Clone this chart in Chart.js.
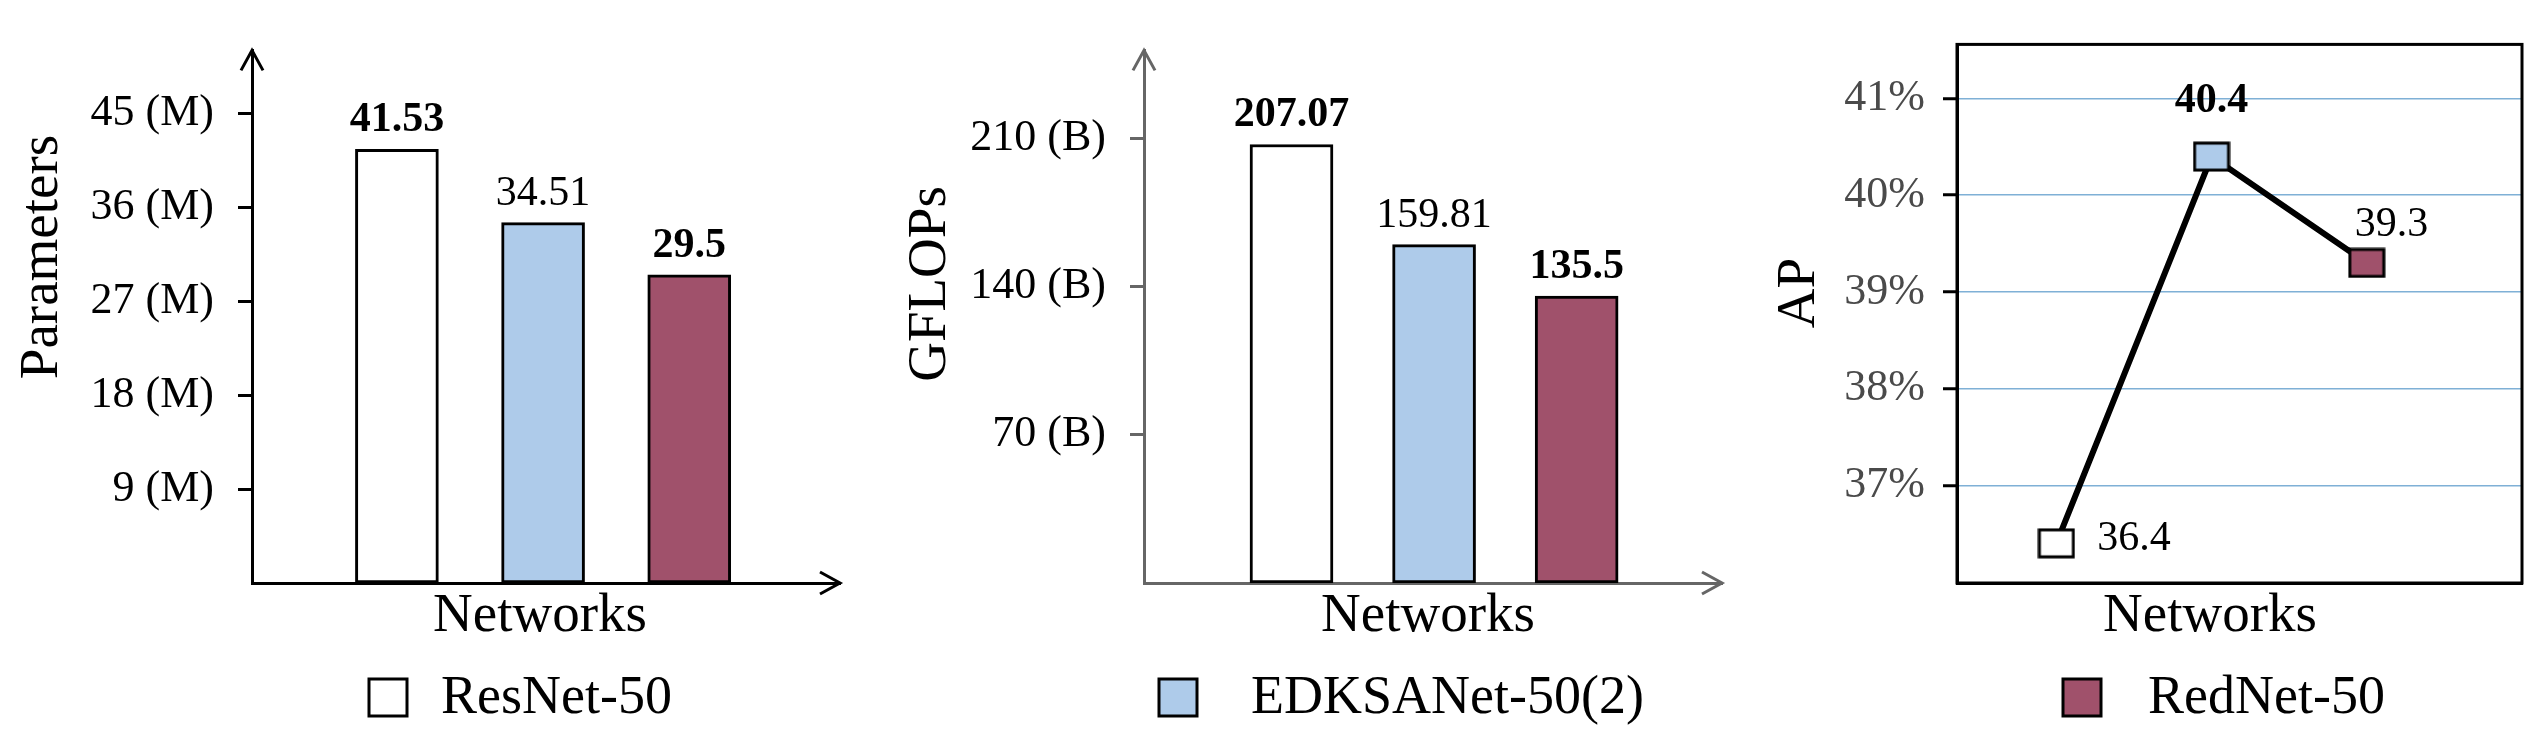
<!DOCTYPE html>
<html>
<head>
<meta charset="utf-8">
<script src="https://cdn.jsdelivr.net/npm/chart.js@4/dist/chart.umd.min.js"></script>
<style>
  html, body { margin: 0; padding: 0; background: #fff; }
  #wrap { position: relative; width: 2544px; height: 751px; }
  canvas { position: absolute; left: 0; top: 0; }
</style>
</head>
<body>
<div id="wrap">
  <canvas id="params" width="2544" height="751"></canvas>
  <canvas id="flops" width="2544" height="751"></canvas>
  <canvas id="ap" width="2544" height="751"></canvas>
</div>
<script>
const networks = ["ResNet-50", "EDKSANet-50(2)", "RedNet-50"];
const colors = ["#ffffff", "#aecbea", "#a0516b"];
const paramValues = [41.53, 34.51, 29.5];
const paramTicks = [9, 18, 27, 36, 45];
const flopValues = [207.07, 159.81, 135.5];
const flopTicks = [70, 140, 210];
const apValues = [36.4, 40.4, 39.3];
const apTicks = [37, 38, 39, 40, 41];
const boldLabels = [true, false, true];
const apBold = [false, true, false];

const SERIF = "'Liberation Serif', 'Times New Roman', serif";
Chart.defaults.font.family = SERIF;
Chart.defaults.animation = false;
Chart.defaults.responsive = false;
Chart.defaults.devicePixelRatio = 1;

function arrow(ctx, x, y, dir, color) {
  ctx.save();
  ctx.strokeStyle = color;
  ctx.lineWidth = 3;
  ctx.beginPath();
  if (dir === "up") {
    ctx.moveTo(x - 11, y + 20); ctx.lineTo(x, y); ctx.lineTo(x + 11, y + 20);
  } else {
    ctx.moveTo(x - 20, y - 11); ctx.lineTo(x, y); ctx.lineTo(x - 20, y + 11);
  }
  ctx.stroke();
  ctx.restore();
}

function text(ctx, str, x, y, size, opts = {}) {
  ctx.save();
  ctx.font = (opts.bold ? "bold " : "") + size + "px " + SERIF;
  ctx.fillStyle = opts.color || "#000";
  ctx.textAlign = opts.align || "center";
  ctx.textBaseline = opts.baseline || "middle";
  ctx.translate(x, y);
  if (opts.rotate) ctx.rotate(-Math.PI / 2);
  ctx.fillText(str, 0, 0);
  ctx.restore();
}

function legendBox(ctx, x, y, fill, label, textX) {
  ctx.save();
  ctx.fillStyle = fill;
  ctx.strokeStyle = "#000";
  ctx.lineWidth = 3;
  ctx.fillRect(x, y, 38, 37);
  ctx.strokeRect(x, y, 38, 37);
  ctx.restore();
  text(ctx, label, textX, y + 20, 54, { align: "left" });
}

function barChart(id, values, ticks, unit, box, deco) {
  return new Chart(document.getElementById(id), {
    type: "bar",
    data: {
      datasets: [{
        data: values.map((v, i) => ({ x: i, y: v })),
        backgroundColor: colors,
        borderColor: "#000",
        borderWidth: 3,
        borderSkipped: false,
        barThickness: 83,
      }],
    },
    options: {
      layout: { padding: { top: box.top, right: 2544 - box.right, left: 0, bottom: 0 } },
      plugins: { legend: { display: false }, tooltip: { enabled: false } },
      scales: {
        x: {
          type: "linear", min: box.xmin, max: box.xmax,
          afterFit: (s) => { s.height = 751 - box.bottom; },
          ticks: { display: false },
          grid: { display: false },
          border: { color: box.axisColor, width: 3 },
        },
        y: {
          min: 0, max: box.ymax,
          afterFit: (s) => { s.width = box.left; },
          afterBuildTicks: (s) => { s.ticks = ticks.map((v) => ({ value: v })); },
          ticks: {
            color: "#000", padding: 24,
            font: { size: 44 },
            callback: (v) => v + " (" + unit + ")",
          },
          grid: { drawOnChartArea: false, tickLength: 14, tickColor: box.axisColor, tickWidth: 3 },
          border: { color: box.axisColor, width: 3 },
        },
      },
    },
    plugins: [{
      id: "deco",
      afterDraw(chart) {
        const ctx = chart.ctx;
        const a = chart.chartArea;
        arrow(ctx, a.left, a.top, "up", box.axisColor);
        arrow(ctx, a.right, a.bottom, "right", box.axisColor);
        chart.getDatasetMeta(0).data.forEach((bar, i) => {
          text(ctx, values[i], bar.x, bar.y - 8, 42, { bold: boldLabels[i], baseline: "bottom" });
        });
        deco(ctx);
      },
    }],
  });
}

barChart("params", paramValues, paramTicks, "M",
  { left: 252, right: 840, top: 26, bottom: 583, xmin: -0.74, xmax: 2.78, ymax: 51, axisColor: "#000" },
  (ctx) => {
    text(ctx, "Parameters", 43, 257, 55, { rotate: true });
    text(ctx, "Networks", 540, 617, 55);
    legendBox(ctx, 369, 679, colors[0], networks[0], 441);
  });

barChart("flops", flopValues, flopTicks, "B",
  { left: 1144, right: 1722, top: 42, bottom: 583, xmin: -0.745, xmax: 2.73, ymax: 251.5, axisColor: "#666" },
  (ctx) => {
    text(ctx, "GFLOPs", 931, 284, 55, { rotate: true });
    text(ctx, "Networks", 1428, 617, 55);
    legendBox(ctx, 1159, 679, colors[1], networks[1], 1251);
  });

function marker(fill) {
  const c = document.createElement("canvas");
  c.width = 38; c.height = 31;
  const g = c.getContext("2d");
  g.fillStyle = fill;
  g.fillRect(2, 2, 34, 27);
  g.strokeStyle = "#000";
  g.lineWidth = 3;
  g.strokeRect(2, 2, 34, 27);
  return c;
}

new Chart(document.getElementById("ap"), {
  type: "line",
  data: {
    datasets: [{
      data: apValues.map((v, i) => ({ x: i, y: v })),
      borderColor: "#000",
      borderWidth: 6,
      pointStyle: colors.map(marker),
      pointRadius: 16,
    }],
  },
  options: {
    layout: { padding: { top: 42, right: 2544 - 2528, left: 0, bottom: 0 } },
    plugins: { legend: { display: false }, tooltip: { enabled: false } },
    scales: {
      x: {
        type: "linear", min: -0.64, max: 3.0,
        afterFit: (s) => { s.height = 751 - 583; },
        ticks: { display: false },
        grid: { display: false },
        border: { color: "#000", width: 3 },
      },
      y: {
        min: 35.99, max: 41.56,
        afterFit: (s) => { s.width = 1957; },
        afterBuildTicks: (s) => { s.ticks = apTicks.map((v) => ({ value: v })); },
        ticks: {
          color: "#4a4a4a", padding: 18,
          font: { size: 44 },
          callback: (v) => v + "%",
        },
        grid: {
          color: "#7fb0d6", lineWidth: 1.5, tickColor: "#000", tickWidth: 3, tickLength: 14,
          drawTicks: true,
        },
        border: { color: "#000", width: 3, dash: [] },
      },
    },
  },
  plugins: [{
    id: "dash",
    beforeDatasetsDraw(chart) {
      const ctx = chart.ctx;
      const a = chart.chartArea;
      const y = chart.scales.y;
      ctx.save();
      ctx.fillStyle = "#fff";
      ctx.restore();
    },
    afterDraw(chart) {
      const ctx = chart.ctx;
      const a = chart.chartArea;
      ctx.save();
      ctx.strokeStyle = "#000";
      ctx.lineWidth = 3;
      ctx.strokeRect(a.left, a.top, a.right - a.left, a.bottom - a.top);
      ctx.restore();
      const pts = chart.getDatasetMeta(0).data;
      text(ctx, "36.4", pts[0].x + 41, pts[0].y - 4, 42, { align: "left" });
      text(ctx, "40.4", pts[1].x, pts[1].y - 45, 42, { bold: true, baseline: "alphabetic" });
      text(ctx, "39.3", pts[2].x - 12, pts[2].y - 27, 42, { align: "left", baseline: "alphabetic" });
      text(ctx, "AP", 1800, 293, 55, { rotate: true });
      text(ctx, "Networks", 2210, 617, 55);
      legendBox(ctx, 2063, 679, colors[2], networks[2], 2148);
    },
  }],
});
</script>
</body>
</html>
